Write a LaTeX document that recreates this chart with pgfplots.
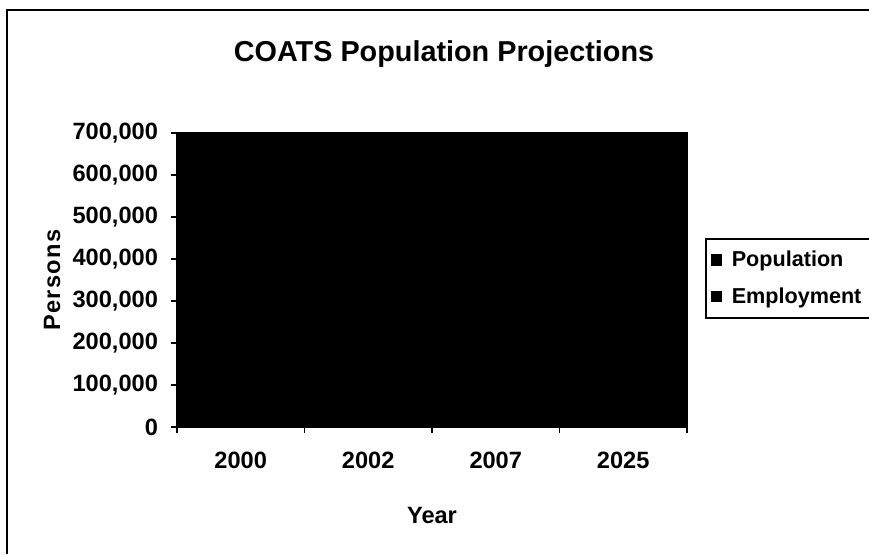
\documentclass[border=0pt]{standalone}
\usepackage{pgfplots}
\pgfplotsset{compat=1.18}
\usepackage{fontspec}
\setmainfont{Liberation Sans}
\begin{document}
\begin{tikzpicture}[x=0.5pt,y=0.5pt]
\useasboundingbox (0,0) rectangle (869,554);
\fill[white] (0,0) rectangle (869,554);
\draw[line width=1pt] (7,0) -- (7,544) -- (880,544);
\begin{axis}[
  at={(88.5pt,63.5pt)}, anchor=south west,
  scale only axis, width=255pt, height=147pt,
  axis background/.style={fill=black},
  axis line style={black, line width=0.8pt},
  ybar, bar width=20pt,
  xmin=-0.5, xmax=3.5, ymin=0, ymax=700000,
  xtick={0,1,2,3}, xticklabels={2000,2002,2007,2025},
  major x tick style={draw=none},
  minor xtick={-0.5,0.5,1.5,2.5,3.5},
  minor x tick style={black, line width=0.8pt},
  major y tick style={black, line width=0.8pt},
  ytick={0,100000,...,700000},
  tick align=outside, major tick length=3pt, minor tick length=3pt,
  xtick pos=bottom, ytick pos=left,
  scaled y ticks=false,
  /pgf/number format/.cd, fixed, 1000 sep={,}, assume math mode=true,
  /pgfplots/.cd,
  tick label style={font=\fontsize{11.8}{13}\selectfont\bfseries},
  xticklabel style={yshift=-6pt},
  yticklabel style={xshift=-3pt},
  title={COATS Population Projections},
  title style={font=\fontsize{14.4}{16}\selectfont\bfseries, at={(axis description cs:0.5,1)}, anchor=center, yshift=33.5pt, xshift=6pt},
  xlabel={Year},
  xlabel style={font=\fontsize{11.8}{13}\selectfont\bfseries, at={(axis description cs:0.5,0)}, anchor=center, yshift=-44pt},
  ylabel={\addfontfeature{LetterSpace=6}Persons},
  ylabel style={font=\fontsize{11.8}{13}\selectfont\bfseries, at={(axis description cs:-0.245,0.5)}, anchor=center, rotate=0},
  legend style={at={(axis description cs:1,0.643)}, anchor=north west, xshift=9pt,
    font=\fontsize{10.8}{12}\selectfont\bfseries, draw=black, line width=0.8pt,
    inner xsep=1pt, inner ysep=4pt, row sep=5pt},
  legend cell align=left,
  legend image code/.code={\fill[black, draw=none] (1.5pt,-2.8pt) rectangle (7pt,2.8pt); \path[draw=none, fill=none] (0pt,0pt) -- (10pt,0pt);},
]
\addplot[fill=black, draw=black] coordinates {(0,290000) (1,300000) (2,320000) (3,400000)};
\addlegendentry{Population}
\addplot[fill=black, draw=black] coordinates {(0,150000) (1,160000) (2,175000) (3,230000)};
\addlegendentry{Employment\hspace*{14pt}}
\end{axis}
\end{tikzpicture}
\end{document}
